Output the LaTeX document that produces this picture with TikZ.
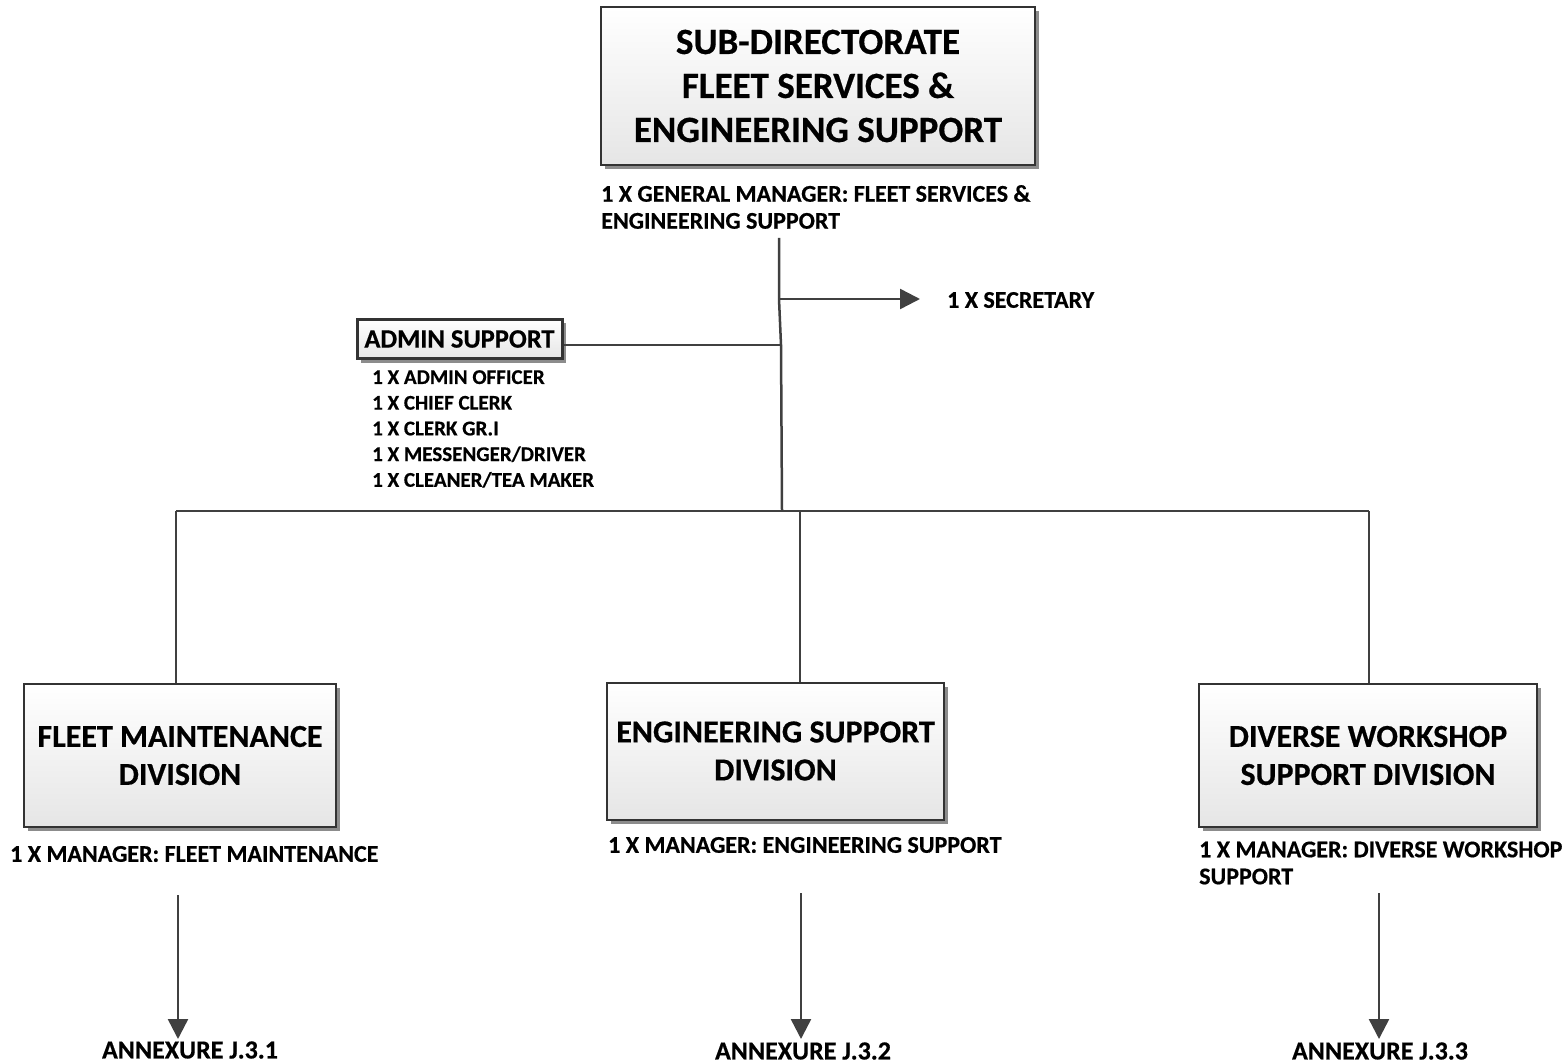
\documentclass[tikz,border=0pt]{standalone}
\usepackage{fontspec}
\setmainfont{Carlito}[BoldFeatures={FakeBold=0.5}]
\usetikzlibrary{arrows.meta,shadows}
\definecolor{linec}{HTML}{404040}
\definecolor{boxline}{HTML}{333333}
\tikzset{
  orgbox/.style={draw=boxline, line width=2pt, top color=white, bottom color=black!10,
    align=center, inner sep=0pt, font=\bfseries,
    drop shadow={shadow xshift=4pt, shadow yshift=-4pt, fill=black!45, opacity=1}},
  lbl/.style={inner sep=0pt, font=\bfseries\fontsize{24}{27}\selectfont, align=left},
  annex/.style={inner sep=0pt, font=\bfseries\fontsize{26}{30}\selectfont},
  conn/.style={draw=linec, line width=2.5pt},
  arr/.style={conn, -{Triangle[length=20pt,width=20pt]}},
}
\begin{document}
\begin{tikzpicture}[x=1pt,y=-1pt]
\useasboundingbox (0,0) rectangle (1568,1064);
% top box
\node[orgbox, minimum width=434pt, minimum height=158pt, font=\bfseries\fontsize{37}{44}\selectfont] (top) at (818,86)
  {SUB-DIRECTORATE\\FLEET SERVICES \&\\ENGINEERING SUPPORT};
\node[lbl, anchor=west] (gm) at (601,207) {1 X GENERAL MANAGER: FLEET SERVICES \&\\ENGINEERING SUPPORT};
% admin
\node[orgbox, line width=3pt, minimum width=205pt, minimum height=39pt, font=\bfseries\fontsize{26.5}{30}\selectfont] (admin) at (459.5,339) {ADMIN SUPPORT};
\node[inner sep=0pt, anchor=north west, align=left, font=\bfseries\fontsize{21}{25.7}\selectfont] (adminlist) at (372,370)
  {1 X ADMIN OFFICER\\1 X CHIEF CLERK\\1 X CLERK GR.I\\1 X MESSENGER/DRIVER\\1 X CLEANER/TEA MAKER};
% secretary
\node[lbl, anchor=west] (sec) at (947,300) {1 X SECRETARY};
% divisions
\node[orgbox, minimum width=312pt, minimum height=143pt, font=\bfseries\fontsize{32}{38}\selectfont] (fm) at (180,755.5)
  {FLEET MAINTENANCE\\DIVISION};
\node[orgbox, minimum width=337pt, minimum height=137pt, font=\bfseries\fontsize{32}{38}\selectfont] (es) at (775.5,751)
  {ENGINEERING SUPPORT\\DIVISION};
\node[orgbox, minimum width=338pt, minimum height=143pt, font=\bfseries\fontsize{32}{38}\selectfont] (dw) at (1368,755.5)
  {DIVERSE WORKSHOP\\SUPPORT DIVISION};
% manager labels
\node[lbl, anchor=west] (mfm) at (10,854) {1 X MANAGER: FLEET MAINTENANCE};
\node[lbl, anchor=west] (mes) at (608,845) {1 X MANAGER: ENGINEERING SUPPORT};
\node[lbl, anchor=west] (mdw) at (1199,863) {1 X MANAGER: DIVERSE WORKSHOP\\SUPPORT};
% annexures
\node[annex] (a1) at (190,1050) {ANNEXURE J.3.1};
\node[annex] (a2) at (803,1051) {ANNEXURE J.3.2};
\node[annex] (a3) at (1380,1051) {ANNEXURE J.3.3};
% coordinates
\coordinate (mtop) at (779,238);
\coordinate (msec) at (779,299);
\coordinate (secend) at (920,299);
\coordinate (madm) at (781,345);
\coordinate (mbus) at (782,511);
\coordinate (bl) at (176,511);
\coordinate (bm) at (800,511);
\coordinate (br) at (1369,511);
\coordinate (s1) at (178,895);
\coordinate (s2) at (801,893);
\coordinate (s3) at (1379,893);
\coordinate (e1) at (178,1039);
\coordinate (e2) at (801,1039);
\coordinate (e3) at (1379,1039);
% connectors
\draw[conn] (mtop) -- (msec) -- (madm) -- (mbus);
\draw[arr] (msec) -- (secend);
\draw[conn] (admin.east |- madm) -- (madm);
\draw[conn] (bl) -- (br);
\draw[conn] (bl) -- (fm.north -| bl);
\draw[conn] (bm) -- (es.north -| bm);
\draw[conn] (br) -- (dw.north -| br);
\draw[arr] (s1) -- (e1);
\draw[arr] (s2) -- (e2);
\draw[arr] (s3) -- (e3);
\end{tikzpicture}
\end{document}
